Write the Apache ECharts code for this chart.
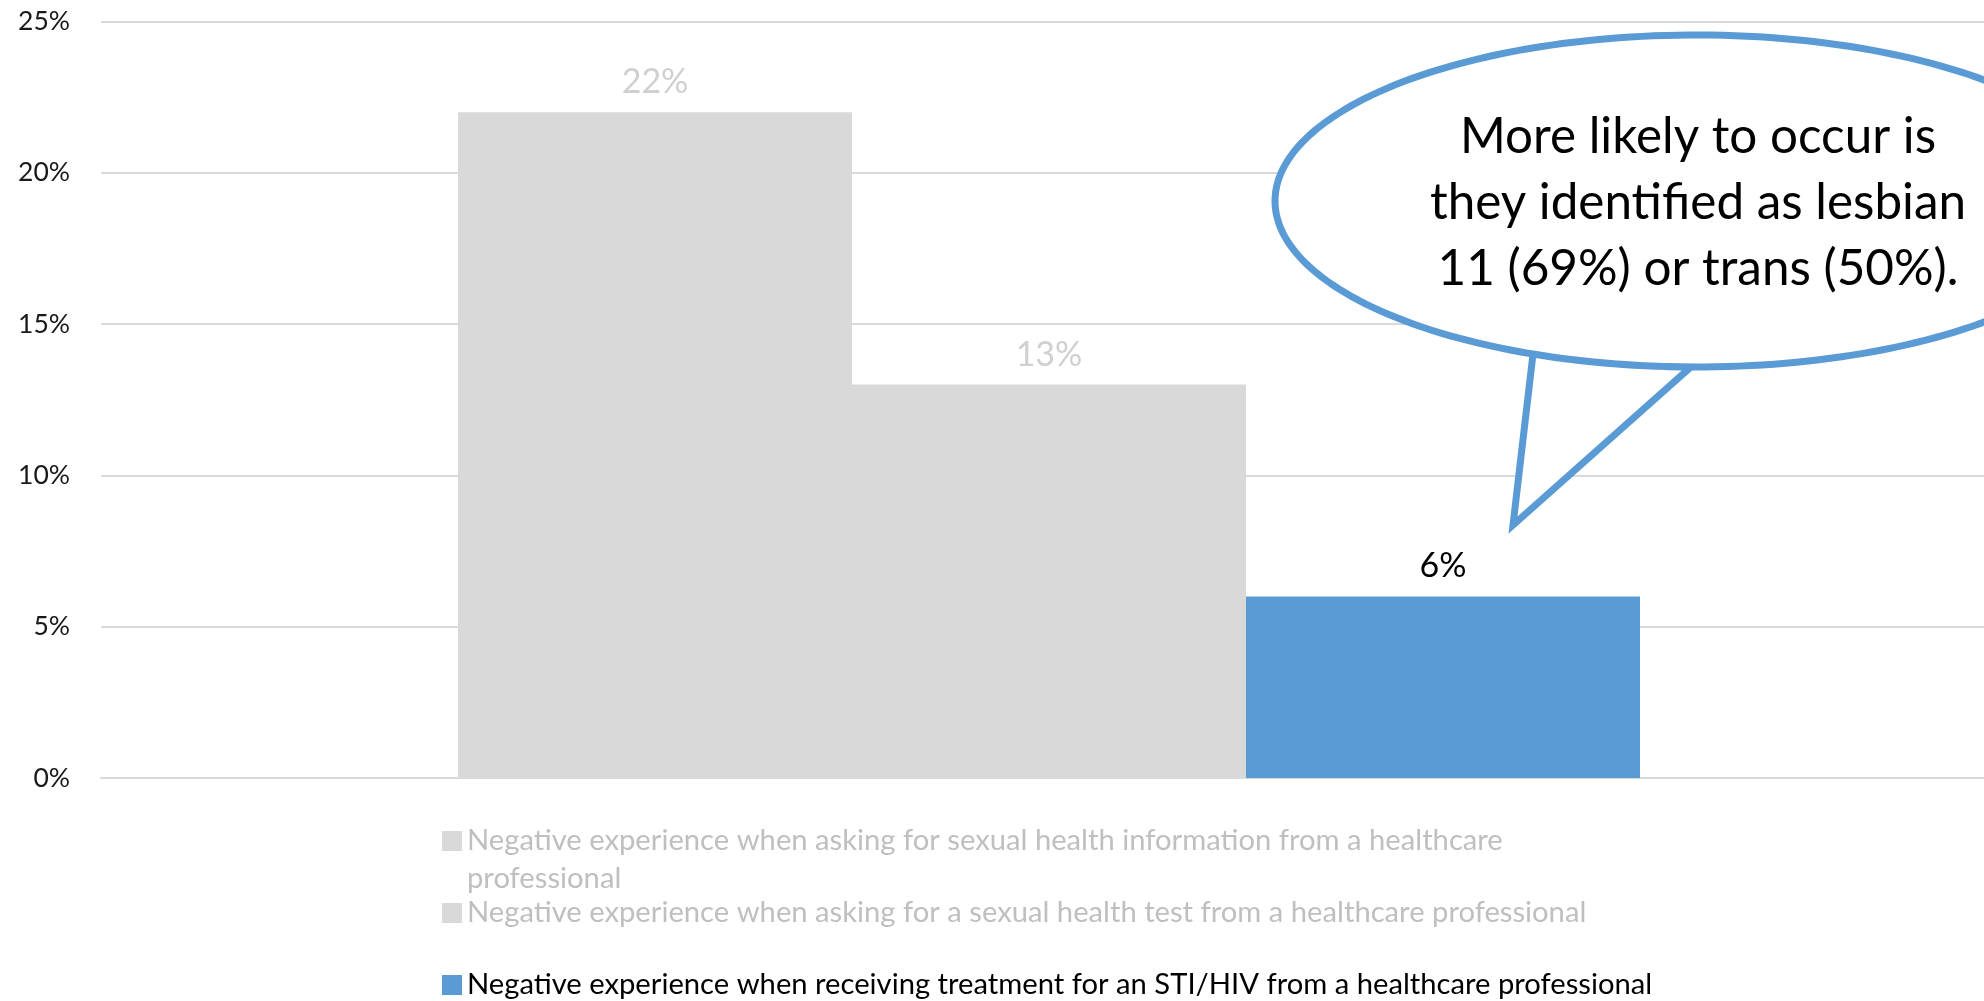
<!DOCTYPE html>
<html>
<head>
<meta charset="utf-8">
<script src="https://cdn.jsdelivr.net/npm/echarts@6/dist/echarts.min.js"></script>
<style>
  html, body { margin: 0; padding: 0; background: #fff; }
  #chart { width: 1984px; height: 1001px; }
</style>
</head>
<body>
<div id="chart"></div>
<script>
// Survey results: share of respondents reporting a negative experience
const categories = [''];
const seriesNames = [
  'Negative experience when asking for sexual health information from a healthcare professional',
  'Negative experience when asking for a sexual health test from a healthcare professional',
  'Negative experience when receiving treatment for an STI/HIV from a healthcare professional'
];
const infoValues = [22];
const testValues = [13];
const treatmentValues = [6];
const yTicks = { min: 0, max: 25, interval: 5 };
const calloutLines = [
  'More likely to occur is',
  'they identified as lesbian',
  '11 (69%) or trans (50%).'
];

const FONT = "Lato, 'Open Sans', sans-serif";
const GRAY = '#d9d9d9';
const BLUE = '#5b9bd5';
const LEGEND_LINE = 38;

const chart = echarts.init(document.getElementById('chart'), null, { renderer: 'canvas' });

function barSeries(name, values, color, labelColor) {
  return {
    name: name,
    type: 'bar',
    data: values,
    barGap: '0%',
    barCategoryGap: '37.66%',
    itemStyle: { color: color },
    label: {
      show: true,
      position: 'top',
      distance: 13,
      formatter: '{c}%',
      color: labelColor,
      fontFamily: FONT,
      fontSize: 34
    },
    emphasis: { disabled: true }
  };
}

// one legend block per series; centerY is the vertical centre of the swatch
function legendAt(name, centerY, textColor, lines) {
  const n = lines || 1;
  return {
    data: [name],
    left: 442,
    top: centerY - (n * LEGEND_LINE) / 2,
    orient: 'vertical',
    padding: 0,
    itemWidth: 20,
    itemHeight: 20,
    itemGap: 0,
    icon: 'rect',
    selectedMode: false,
    formatter: n > 1
      ? function (s) { return '\n' + s.replace(' professional', '\nprofessional'); }
      : '{name}',
    textStyle: { color: textColor, fontFamily: FONT, fontSize: 29.2, lineHeight: LEGEND_LINE }
  };
}

// Speech-bubble callout outline: elliptical arc plus a pointed tail
const cx = 1696, cy = 201, rx = 421, ry = 166;
function bubbleOutline() {
  const tL = Math.acos((1533 - cx) / rx);      // tail base, left side (lower half)
  const tR = Math.acos((1691 - cx) / rx);      // tail base, right side (lower half)
  const pts = [];
  const steps = 240;
  const start = tL, end = tR - 2 * Math.PI;    // y grows downward
  for (let i = 0; i <= steps; i++) {
    const a = start + (end - start) * i / steps;
    pts.push([cx + rx * Math.cos(a), cy + ry * Math.sin(a)]);
  }
  pts.push([1513, 525]);                        // tail tip
  return pts;
}

chart.setOption({
  backgroundColor: '#ffffff',
  animation: false,
  grid: { left: 101, top: 21.5, width: 1896, bottom: 223, outerBoundsMode: 'none', containLabel: false },
  xAxis: {
    type: 'category',
    data: categories,
    axisLine: { show: true, lineStyle: { color: GRAY, width: 2 } },
    axisTick: { show: false },
    axisLabel: { show: false }
  },
  yAxis: {
    type: 'value',
    min: yTicks.min,
    max: yTicks.max,
    interval: yTicks.interval,
    axisLine: { show: false },
    axisTick: { show: false },
    splitLine: { lineStyle: { color: GRAY, width: 2 } },
    axisLabel: {
      formatter: '{value}%',
      color: '#1a1a1a',
      fontFamily: FONT,
      fontSize: 26.5,
      margin: 31
    }
  },
  legend: [
    legendAt(seriesNames[0], 841, '#bfbfbf', 3),
    legendAt(seriesNames[1], 913, '#bfbfbf'),
    legendAt(seriesNames[2], 985, '#000000')
  ],
  series: [
    barSeries(seriesNames[0], infoValues, GRAY, '#d0d0d0'),
    barSeries(seriesNames[1], testValues, GRAY, '#d0d0d0'),
    barSeries(seriesNames[2], treatmentValues, BLUE, '#000000')
  ],
  graphic: [
    {
      type: 'polygon',
      z: 100,
      shape: { points: bubbleOutline() },
      style: { fill: '#ffffff', stroke: BLUE, lineWidth: 7, lineJoin: 'miter' }
    },
    {
      type: 'text',
      z: 101,
      x: 1698,
      y: 203,
      style: {
        text: calloutLines.join('\n'),
        fill: '#000000',
        fontFamily: FONT,
        fontSize: 49.4,
        lineHeight: 66,
        align: 'center',
        verticalAlign: 'middle'
      }
    }
  ]
});
</script>
</body>
</html>
